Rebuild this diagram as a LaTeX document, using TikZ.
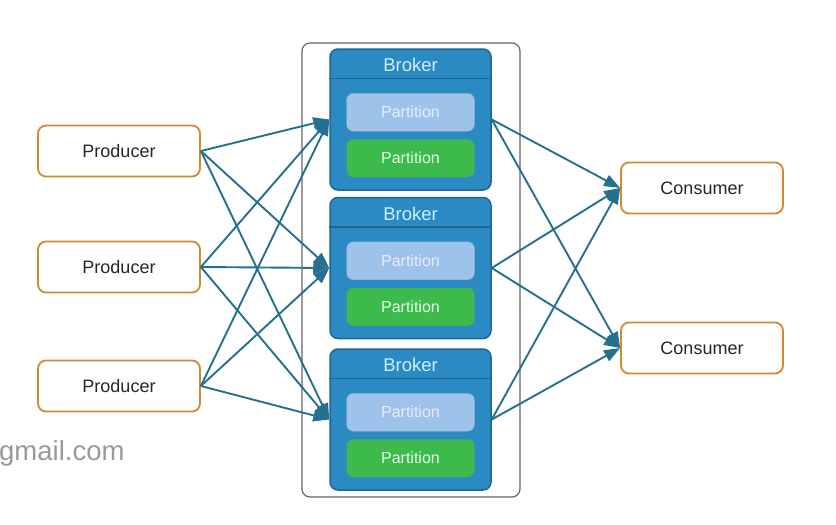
\documentclass[tikz,border=0pt]{standalone}
\usepackage{fontspec}
\setmainfont{Liberation Sans}
\usetikzlibrary{arrows.meta}
\definecolor{brokerblue}{HTML}{2C8AC2}
\definecolor{brokerline}{HTML}{1D6693}
\definecolor{partlight}{HTML}{9DC3EA}
\definecolor{partgreen}{HTML}{3CBA4C}
\definecolor{flowblue}{HTML}{24708F}
\definecolor{clientline}{HTML}{CF8B2F}
\tikzset{
 client/.style={draw=clientline, line width=1.8pt, rounded corners=8pt, fill=white,
  minimum width=162pt, minimum height=51pt, font=\fontsize{18}{21}\selectfont, text=black!85},
 broker/.style={draw=brokerline, line width=1.5pt, rounded corners=8pt, fill=brokerblue,
  minimum width=161pt, minimum height=141pt},
 part/.style={rounded corners=7pt, minimum width=128pt, minimum height=38pt,
  font=\fontsize{16}{19}\selectfont},
 flow/.style={draw=flowblue, line width=1.9pt, -{Triangle[length=16pt,width=12pt]}}
}
\begin{document}
\begin{tikzpicture}[x=1pt,y=-1pt]
\useasboundingbox (0,0) rectangle (836,525);
\draw[black!60, line width=1.2pt, rounded corners=8pt] (302,43) rectangle (520,497); % cluster
\foreach \i/\y in {1/119.5,2/268,3/419.5}{
 \node[broker] (b\i) at (410.5,\y) {};
 \draw[brokerline, line width=1.5pt] ([yshift=-30pt]b\i.north west) -- ([yshift=-30pt]b\i.north east);
 \node[text=cyan!20, font=\fontsize{18.5}{21}\selectfont] (t\i) at ([yshift=-17pt]b\i.north) {Broker};
 \node[part, fill=partlight, draw=partlight!85!black, text=white!92!blue] (pa\i) at ([yshift=-64pt]b\i.north) {Partition};
 \node[part, fill=partgreen, text=green!10] (pb\i) at ([yshift=-110pt]b\i.north) {Partition};
}
\foreach \i/\y in {1/151,2/267,3/386}
 \node[client] (p\i) at (119,\y) {Producer};
\foreach \i/\y in {1/188,2/348}
 \node[client] (c\i) at (702,\y) {Consumer};
% producers to brokers
\foreach \i in {1,2,3}
 \foreach \j in {1,2,3}
 \draw[flow] (p\i.east) -- (b\j.west);
% brokers to consumers
\foreach \j in {1,2,3}
 \foreach \k in {1,2}
 \draw[flow] (b\j.east) -- (c\k.west);
\node[black!40, font=\fontsize{27.5}{31}\selectfont, anchor=west, inner sep=0pt] (mail) at (-1,453) {gmail.com};
\end{tikzpicture}
\end{document}
